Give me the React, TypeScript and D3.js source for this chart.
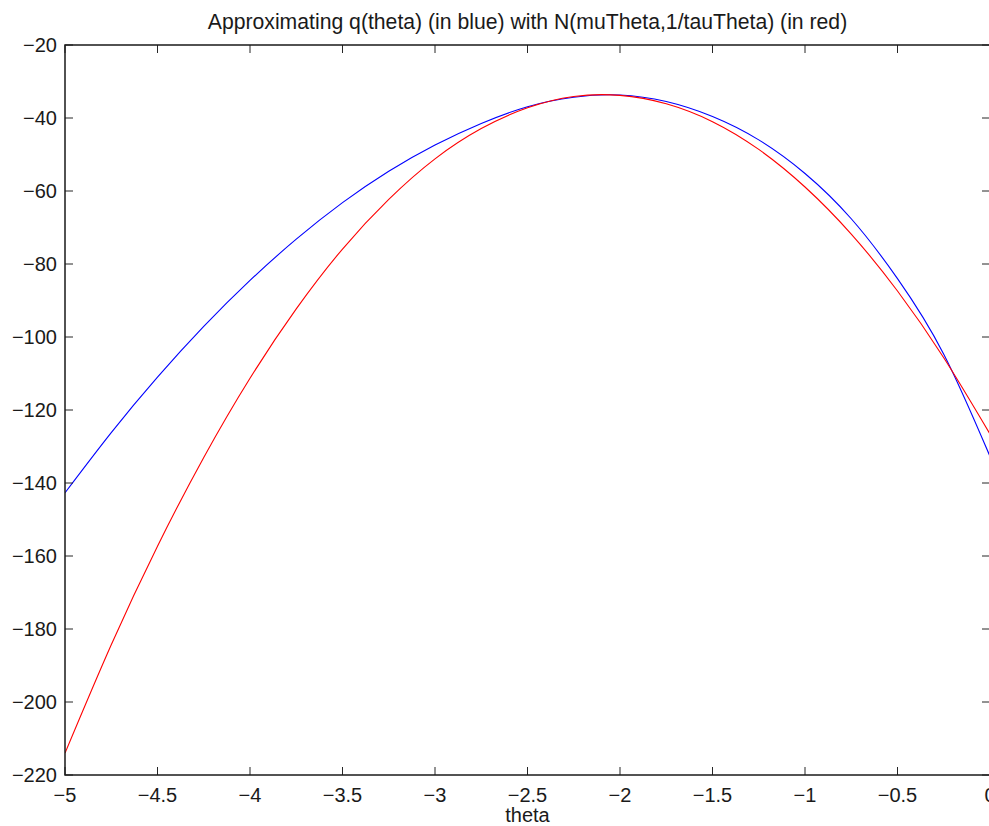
import React from "react";
import * as d3 from "d3";

const thetaValues = [-5, -4.75, -4.5, -4.25, -4, -3.75, -3.5, -3.25, -3, -2.75, -2.5, -2.25, -2, -1.75, -1.5, -1.25, -1, -0.75, -0.5, -0.25, 0];
const qTheta = [-142.7, -126.2, -111.0, -97.1, -84.5, -73.2, -63.2, -54.6, -47.4, -41.5, -36.9, -34.3, -33.7, -35.5, -39.6, -46.0, -55.2, -67.6, -84.0, -104.7, -132.7];
const normalApprox = [-214.0, -184.3, -157.3, -133.0, -111.3, -92.3, -75.9, -62.3, -51.2, -42.9, -37.2, -34.1, -33.8, -36.1, -41.0, -48.6, -58.9, -71.8, -87.4, -105.7, -126.6];
const xTicks = [-5, -4.5, -4, -3.5, -3, -2.5, -2, -1.5, -1, -0.5, 0];
const yTicks = [-220, -200, -180, -160, -140, -120, -100, -80, -60, -40, -20];

const titleText = "Approximating q(theta) (in blue) with N(muTheta,1/tauTheta) (in red)";
const xLabel = "theta";

const W = 989, H = 826;
const left = 65, right = 990, top = 45, bottom = 775;

const fmt = (v: number) => (v < 0 ? "\u2212" + String(Math.abs(v)) : String(v));

export default function App() {
  const x = d3.scaleLinear().domain([-5, 0]).range([left, right]);
  const y = d3.scaleLinear().domain([-220, -20]).range([bottom, top]);
  const line = (vals: number[]) =>
    d3.line<number>()
      .x((_, i) => x(thetaValues[i]))
      .y((d) => y(d))
      .curve(d3.curveNatural)(vals) || "";
  const font = "'Liberation Sans', Arial, Helvetica, sans-serif";
  const tickLen = 8;
  return (
    <svg width={W} height={H} style={{ position: "absolute", left: 0, top: 0, background: "#fff" }} fontFamily={font}>
      <defs>
        <clipPath id="plotclip">
          <rect x={left} y={top} width={right - left} height={bottom - top} />
        </clipPath>
      </defs>
      <rect x={0} y={0} width={W} height={H} fill="#fff" />
      <g clipPath="url(#plotclip)" fill="none">
        <path d={line(qTheta)} stroke="#0000ff" strokeWidth={1.1} />
        <path d={line(normalApprox)} stroke="#ff0000" strokeWidth={1.1} />
      </g>
      {xTicks.map((t) => (
        <g key={"x" + t}>
          <line x1={x(t)} x2={x(t)} y1={bottom} y2={bottom - tickLen} stroke="#262626" strokeWidth={1} />
          <line x1={x(t)} x2={x(t)} y1={top} y2={top + tickLen} stroke="#262626" strokeWidth={1} />
          <text x={x(t)} y={bottom + 27} textAnchor="middle" fontSize={20} fill="#1a1a1a">{fmt(t)}</text>
        </g>
      ))}
      {yTicks.map((t) => (
        <g key={"y" + t}>
          <line x1={left} x2={left + tickLen} y1={y(t)} y2={y(t)} stroke="#262626" strokeWidth={1} />
          <line x1={right} x2={right - tickLen} y1={y(t)} y2={y(t)} stroke="#262626" strokeWidth={1} />
          <text x={left - 8} y={y(t) + 7} textAnchor="end" fontSize={20} fill="#1a1a1a">{fmt(t)}</text>
        </g>
      ))}
      <rect x={left} y={top} width={right - left} height={bottom - top} fill="none" stroke="#1a1a1a" strokeWidth={1.5} />
      <text x={(left + right) / 2} y={29} textAnchor="middle" fontSize={21.2} fill="#1a1a1a">{titleText}</text>
      <text x={(left + right) / 2} y={822} textAnchor="middle" fontSize={20} fill="#1a1a1a">{xLabel}</text>
    </svg>
  );
}
